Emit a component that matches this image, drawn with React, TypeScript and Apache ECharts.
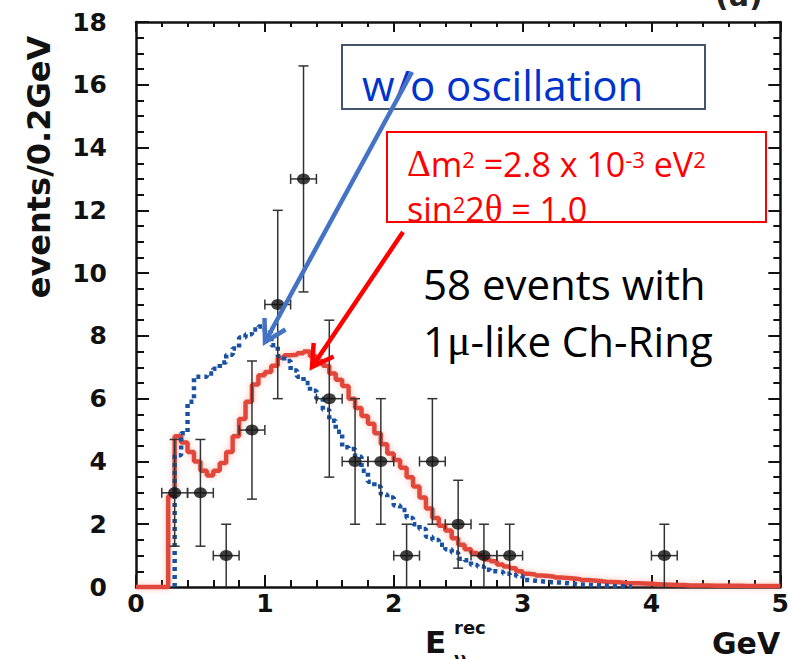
import React, { useEffect, useRef } from "react";
import * as echarts from "echarts";

// Reconstructed-energy histograms, 0.05 GeV steps (events / 0.2 GeV)
const BIN_WIDTH = 0.05;

// expectation with oscillation (Δm² = 2.8e-3 eV², sin²2θ = 1.0), bins from 0.25 GeV
const OSC_START = 0.25;
const OSC_VALUES = [
  2.9, 4.8, 4.6, 4.3, 4.0, 3.7, 3.55, 3.7, 3.95, 4.3,
  4.8, 5.35, 5.9, 6.45, 6.75, 6.85, 7.05, 7.3, 7.38, 7.4,
  7.45, 7.5, 7.35, 7.2, 7.05, 6.8, 6.6, 6.4, 6.0, 5.7,
  5.45, 5.2, 4.9, 4.55, 4.25, 4.05, 3.8, 3.5, 3.2, 2.85,
  2.5, 2.2, 1.95, 1.8, 1.55, 1.35, 1.2, 1.08, 1.0, 0.88,
  0.82, 0.72, 0.65, 0.6, 0.5, 0.42, 0.4, 0.37, 0.35, 0.33,
  0.3, 0.29, 0.27, 0.25, 0.22, 0.21, 0.19, 0.17, 0.16, 0.15,
  0.13, 0.12, 0.12, 0.11, 0.1, 0.09, 0.08, 0.07, 0.06, 0.06,
  0.05, 0.05, 0.05, 0.05, 0.04, 0.04, 0.04, 0.04, 0.04, 0.03,
  0.03, 0.03, 0.03, 0.03, 0.03,
];

// expectation without oscillation, bins from 0.30 GeV
const NOOSC_START = 0.3;
const NOOSC_VALUES = [
  4.2, 4.9, 5.9, 6.7, 6.7, 6.8, 6.95, 7.15, 7.4, 7.6,
  7.95, 8.05, 8.2, 8.3, 8.1, 7.7, 7.35, 7.2, 6.9, 6.7,
  6.5, 6.25, 6.0, 5.65, 5.3, 4.95, 4.45, 4.4, 4.15, 3.7,
  3.35, 3.2, 2.95, 2.85, 2.6, 2.45, 2.2, 2.0, 1.85, 1.6,
  1.5, 1.35, 1.2, 1.1, 0.9, 0.85, 0.7, 0.65, 0.55, 0.5,
  0.48, 0.42, 0.38, 0.35, 0.22, 0.2, 0.18, 0.16, 0.15, 0.14,
  0.12, 0.1, 0.08, 0.07, 0.06, 0.05, 0.04, 0.03, 0.02, 0.02,
  0.01,
];

// observed events, 0.2 GeV bins
const DATA_E = [0.3, 0.5, 0.7, 0.9, 1.1, 1.3, 1.5, 1.7, 1.9, 2.1, 2.3, 2.5, 2.7, 2.9, 4.1];
const DATA_N = [3, 3, 1, 5, 9, 13, 6, 4, 4, 1, 4, 2, 1, 1, 1];
const DATA_LO = [1.3, 1.3, 0, 2.8, 6, 9.4, 3.5, 2, 2, 0, 2, 0.6, 0, 0, 0];
const DATA_HI = [4.7, 4.7, 2, 7.2, 12, 16.6, 8.5, 6, 6, 2, 6, 3.4, 2, 2, 2];
const E_HALF_BIN = 0.1;

const X_MIN = 0;
const X_MAX = 5;
const X_STEP = 1;
const Y_MIN = 0;
const Y_MAX = 18;
const Y_STEP = 2;

const LABEL_FONT = "DejaVu Sans";
const TEXT_FONT = "Open Sans";
const AXIS_COLOR = "#111";

function stepPoints(start: number, values: number[], from: number): number[][] {
  const pts: number[][] = [[from, 0]];
  values.forEach((v, i) => pts.push([+(start + i * BIN_WIDTH).toFixed(3), v]));
  const end = +(start + values.length * BIN_WIDTH).toFixed(3);
  pts.push([end, values[values.length - 1]]);
  return pts;
}

function frameAxis(position: string, major: number, minor: number, split: number, labels: boolean) {
  return {
    type: "value",
    position,
    axisLine: { show: true, onZero: false, lineStyle: { color: AXIS_COLOR, width: 2.5 } },
    axisTick: { show: true, inside: true, length: major, lineStyle: { color: AXIS_COLOR, width: 2 } },
    minorTick: { show: true, splitNumber: split, length: minor, lineStyle: { color: AXIS_COLOR, width: 2 } },
    splitLine: { show: false },
    minorSplitLine: { show: false },
    axisLabel: labels
      ? {
          show: true,
          color: "#111",
          fontFamily: LABEL_FONT,
          fontWeight: "bold",
          fontSize: 25,
        }
      : { show: false },
  };
}

export default function App() {
  const ref = useRef<HTMLDivElement>(null);

  useEffect(() => {
    if (!ref.current) return;
    const chart = echarts.init(ref.current, undefined, { renderer: "svg" });

    const points = DATA_E.map((e, i) => [e, DATA_N[i]]);
    const errors = DATA_E.map((e, i) => [e, DATA_N[i], DATA_LO[i], DATA_HI[i]]);

    const xBottom: any = frameAxis("bottom", 12, 7, 5, true);
    xBottom.axisLabel.margin = 4;
    const xTop: any = frameAxis("top", 10, 5, 5, false);
    const yLeft: any = frameAxis("left", 13, 8, 4, true);
    yLeft.axisLabel.margin = 29;
    const yRight: any = frameAxis("right", 12, 7, 4, false);

    // raised exponent: bottom padding lifts the glyph inside the 45px line
    const supStyle = {
      fontFamily: TEXT_FONT,
      fontSize: 22,
      lineHeight: 45,
      padding: [0, 0, 10, 0],
      fill: "#ff0000",
    };

    const option: any = {
      animation: false,
      backgroundColor: "#fff",
      grid: { left: 136, top: 22, width: 651, height: 565, containLabel: false },
      xAxis: [
        { ...xBottom, min: X_MIN, max: X_MAX, interval: X_STEP },
        { ...xTop, min: X_MIN, max: X_MAX, interval: X_STEP },
      ],
      yAxis: [
        { ...yLeft, min: Y_MIN, max: Y_MAX, interval: Y_STEP },
        { ...yRight, min: Y_MIN, max: Y_MAX, interval: Y_STEP },
      ],
      series: [
        {
          name: "oscillated",
          type: "line",
          step: "end",
          data: stepPoints(OSC_START, OSC_VALUES, X_MIN),
          showSymbol: false,
          symbol: "none",
          clip: false,
          z: 3,
          lineStyle: {
            color: "#e2473a",
            width: 4.5,
            shadowColor: "rgba(240,120,100,0.45)",
            shadowBlur: 6,
          },
        },
        {
          name: "no oscillation",
          type: "line",
          step: "end",
          data: stepPoints(NOOSC_START, NOOSC_VALUES, NOOSC_START),
          showSymbol: false,
          symbol: "none",
          clip: false,
          z: 4,
          lineStyle: {
            color: "#1a52a3",
            width: 4.5,
            type: [4, 4],
            cap: "butt",
          },
        },
        {
          name: "errors",
          type: "custom",
          z: 5,
          data: errors,
          renderItem: (_params: any, api: any) => {
            const x = api.value(0);
            const y = api.value(1);
            const lo = api.value(2);
            const hi = api.value(3);
            const top = api.coord([x, hi]);
            const bot = api.coord([x, lo]);
            const left = api.coord([x - E_HALF_BIN, y]);
            const right = api.coord([x + E_HALF_BIN, y]);
            const cap = 5;
            const style = { stroke: "#333", lineWidth: 1.5 };
            const children: any[] = [
              { type: "line", shape: { x1: top[0], y1: top[1], x2: bot[0], y2: bot[1] }, style },
              { type: "line", shape: { x1: top[0] - cap, y1: top[1], x2: top[0] + cap, y2: top[1] }, style },
              { type: "line", shape: { x1: left[0], y1: left[1], x2: right[0], y2: right[1] }, style },
              { type: "line", shape: { x1: left[0], y1: left[1] - cap, x2: left[0], y2: left[1] + cap }, style },
              { type: "line", shape: { x1: right[0], y1: right[1] - cap, x2: right[0], y2: right[1] + cap }, style },
            ];
            if (lo > 0) {
              children.push({
                type: "line",
                shape: { x1: bot[0] - cap, y1: bot[1], x2: bot[0] + cap, y2: bot[1] },
                style,
              });
            }
            return { type: "group", children };
          },
        },
        {
          name: "data",
          type: "scatter",
          z: 6,
          data: points,
          symbol: "circle",
          symbolSize: [13, 11],
          itemStyle: { color: "#111" },
        },
      ],
      graphic: {
        elements: [
          // y-axis title
          {
            type: "text",
            x: 39,
            y: 167,
            rotation: Math.PI / 2,
            style: {
              text: "events/0.2GeV",
              fill: "#111",
              font: `bold 32px "${LABEL_FONT}"`,
              align: "center",
              verticalAlign: "middle",
            },
          },
          // panel tag, mostly above the page edge
          {
            type: "text",
            x: 715,
            y: 10,
            style: {
              text: "(a)",
              fill: "#222",
              font: `bold 30px "${LABEL_FONT}"`,
              align: "left",
              verticalAlign: "bottom",
            },
          },
          // x-axis title
          {
            type: "text",
            x: 425,
            y: 642,
            style: { text: "E", fill: "#111", font: `bold 31px "${LABEL_FONT}"`, align: "left", verticalAlign: "middle" },
          },
          {
            type: "text",
            x: 454,
            y: 627,
            style: { text: "rec", fill: "#111", font: `bold 18px "${LABEL_FONT}"`, align: "left", verticalAlign: "middle" },
          },
          {
            type: "text",
            x: 454,
            y: 658,
            style: { text: "ν", fill: "#111", font: `bold 18px "${LABEL_FONT}"`, align: "left", verticalAlign: "middle" },
          },
          {
            type: "text",
            x: 712,
            y: 643,
            style: { text: "GeV", fill: "#111", font: `bold 30px "${LABEL_FONT}"`, align: "left", verticalAlign: "middle" },
          },
          // "w/o oscillation" box
          {
            type: "rect",
            z: 20,
            shape: { x: 342, y: 45, width: 363, height: 64 },
            style: { fill: "#fff", stroke: "#44546a", lineWidth: 2 },
          },
          {
            type: "text",
            z: 21,
            x: 362,
            y: 84,
            style: {
              text: "w/o oscillation",
              fill: "#0033cc",
              font: `42px "${TEXT_FONT}"`,
              align: "left",
              verticalAlign: "middle",
            },
          },
          // oscillation parameters box
          {
            type: "rect",
            z: 20,
            shape: { x: 387, y: 132, width: 379, height: 90 },
            style: { fill: "#fff", stroke: "#ff0000", lineWidth: 2 },
          },
          {
            type: "text",
            z: 21,
            x: 407,
            y: 141,
            style: {
              text: "{g|Δ}{t|m}{s|2}{t| =2.8 x 10}{s|-3}{t| eV}{s|2}\n{t|sin}{s|2}{t|2}{g|θ}{t| = 1.0}",
              fill: "#ff0000",
              align: "left",
              verticalAlign: "top",
              rich: {
                t: { fontFamily: TEXT_FONT, fontSize: 34, lineHeight: 45, fill: "#ff0000" },
                g: { fontFamily: "Liberation Serif", fontSize: 37, lineHeight: 45, fill: "#ff0000" },
                s: supStyle,
              },
            },
          },
          // event count note
          {
            type: "text",
            z: 21,
            x: 423,
            y: 255,
            style: {
              text: "{t|58 events with}\n{t|1}{m|μ}{t|-like Ch-Ring}",
              fill: "#000",
              align: "left",
              verticalAlign: "top",
              rich: {
                t: { fontFamily: TEXT_FONT, fontSize: 42, lineHeight: 57, fill: "#000" },
                m: { fontFamily: "Liberation Serif", fontSize: 44, lineHeight: 57, fill: "#000" },
              },
            },
          },
          // arrows
          {
            type: "polyline",
            z: 22,
            shape: { points: [[412, 72], [265, 342]] },
            style: { stroke: "#4472c4", lineWidth: 4.5, fill: null },
          },
          {
            type: "polyline",
            z: 22,
            shape: { points: [[264.5, 318], [265, 342], [285.5, 329.5]] },
            style: { stroke: "#4472c4", lineWidth: 4.5, fill: null, lineJoin: "miter" },
          },
          {
            type: "polyline",
            z: 22,
            shape: { points: [[403, 232], [312, 367]] },
            style: { stroke: "#ff0000", lineWidth: 4.5, fill: null },
          },
          {
            type: "polyline",
            z: 22,
            shape: { points: [[313.7, 343], [312, 367], [333.6, 356.5]] },
            style: { stroke: "#ff0000", lineWidth: 4.5, fill: null, lineJoin: "miter" },
          },
        ],
      },
    };

    chart.setOption(option);
    return () => chart.dispose();
  }, []);

  return (
    <div
      ref={ref}
      style={{ position: "absolute", left: 0, top: 0, width: 792, height: 659, background: "#fff" }}
    />
  );
}
